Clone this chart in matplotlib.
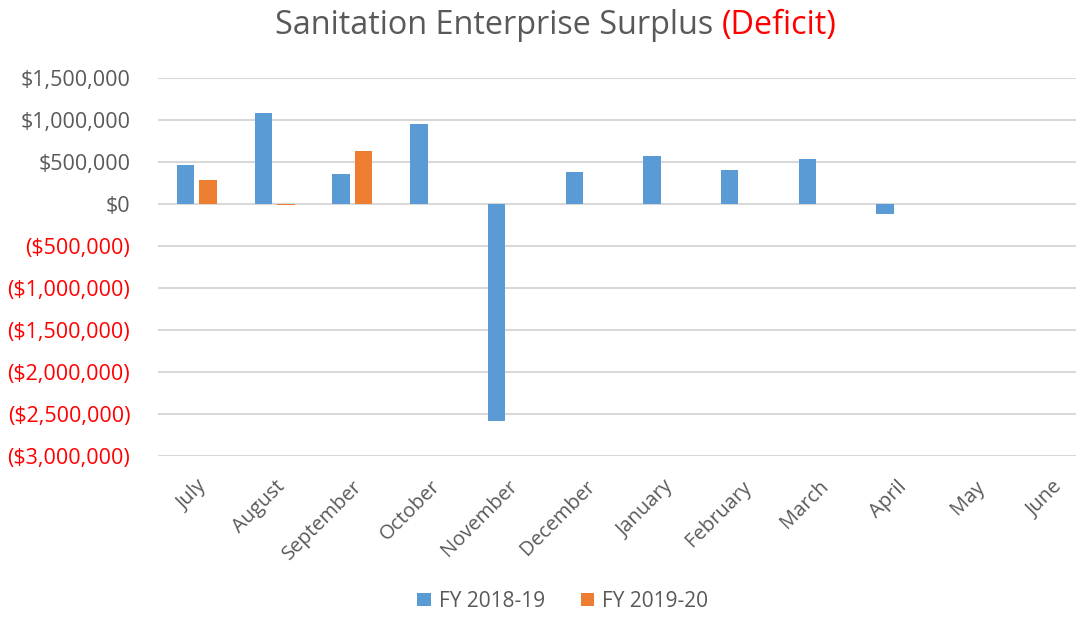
import matplotlib.pyplot as plt
import numpy as np

plt.rcParams['font.family'] = ['Open Sans', 'DejaVu Sans']

months = ["July", "August", "September", "October", "November", "December",
          "January", "February", "March", "April", "May", "June"]
fy1819 = [464000, 1083000, 357000, 952000, -2583000, 381000,
          571000, 405000, 536000, -119000, 3000, -6000]
fy1920 = [286000, -20000, 625000, np.nan, np.nan, np.nan,
          np.nan, np.nan, np.nan, np.nan, np.nan, np.nan]
yticks = [1500000, 1000000, 500000, 0, -500000, -1000000,
          -1500000, -2000000, -2500000, -3000000]

blue = "#5b9bd5"
orange = "#ed7d31"
grey = "#595959"
red = "#ff0000"


def fmt(v):
    if v < 0:
        return "(${:,})".format(-v)
    return "${:,}".format(v)


fig = plt.figure(figsize=(10.76, 6.17), dpi=100)
ax = fig.add_axes([0.1468, 0.261, 0.867, 0.613])

x = np.arange(len(months))
w = 0.225
ax.bar(x - 0.145, fy1819, w, color=blue, label="FY 2018-19", zorder=3)
ax.bar(x + 0.145, fy1920, w, color=orange, label="FY 2019-20", zorder=3)

ax.set_xlim(-0.5, len(months) - 0.5)
ax.set_ylim(-3000000, 1500000)
ax.set_yticks(yticks)
ax.set_yticklabels([fmt(v) for v in yticks], fontsize=15.5)
for lab, v in zip(ax.get_yticklabels(), yticks):
    lab.set_color(red if v < 0 else grey)
ax.set_xticks(x)
ax.set_xticklabels(months, rotation=45, ha="right", rotation_mode="anchor",
                   fontsize=14.5, color=grey)
ax.tick_params(axis="both", length=0)
ax.tick_params(axis="y", pad=20)
ax.tick_params(axis="x", pad=15)
ax.grid(axis="y", color="#d9d9d9", linewidth=1.5, zorder=0)
for s in ax.spines.values():
    s.set_visible(False)

# title in two colours
t1 = fig.text(0.5, 0.959, "Sanitation Enterprise Surplus ", fontsize=23.3,
              color=grey, ha="left", va="center")
t2 = fig.text(0.5, 0.959, "(Deficit)", fontsize=23.3, color=red,
              ha="left", va="center")
fig.canvas.draw()
r = fig.canvas.get_renderer()
w1 = t1.get_window_extent(r).width
w2 = t2.get_window_extent(r).width
x0 = 275
t1.set_x(x0 / fig.bbox.width)
t2.set_x((x0 + w1) / fig.bbox.width)

fig.legend(loc="lower center", bbox_to_anchor=(0.523, -0.022), ncol=2,
           frameon=False, fontsize=15, handlelength=0.65, handleheight=0.65,
           columnspacing=1.7, handletextpad=0.4, labelcolor=grey)

fig.savefig("out.png", dpi=100)
